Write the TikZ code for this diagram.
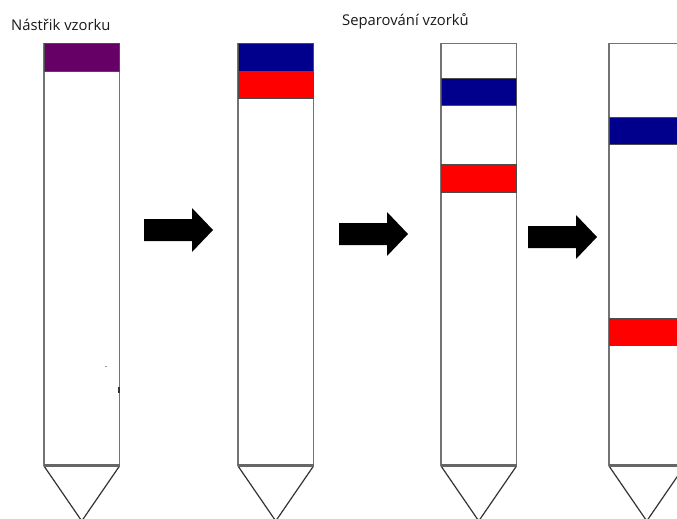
\documentclass[tikz,border=0pt]{standalone}
\usepackage{fontspec}
\setmainfont{Open Sans}
\begin{document}
\begin{tikzpicture}[x=1pt,y=-1pt,
  tube/.style={draw=black!55,line width=1.5pt,fill=white},
  base/.style={draw=black!60,line width=3pt},
  tip/.style={draw=black!80,line width=1.2pt,line join=miter},
  band/.style={draw=black!70,line width=0.8pt},
  flow/.style={fill=black},
  caption/.style={anchor=base west,inner sep=0pt,font=\fontsize{14.8}{17}\selectfont,text=black!90}]
\useasboundingbox (0,0) rectangle (677,519);
\fill[white] (0,0) rectangle (677,519);

% four columns: body, thick base line and conical tip
\foreach \xl/\nm in {44/c1,238/c2,441/c3,609/c4}{
  \draw[tube] (\xl,43.5) rectangle (\xl+75.5,465);
  \draw[tip] (\xl,466) -- (\xl+37.75,521) -- (\xl+75.5,466);
  \draw[base] (\xl-0.5,465) -- (\xl+76,465);
}

% sample zones
\filldraw[band,fill={rgb,255:red,102;green,0;blue,102}] (44,43.5) rectangle (119.5,71);
\filldraw[band,fill={rgb,255:red,0;green,0;blue,140}] (238,43.5) rectangle (313.5,71);
\filldraw[band,fill=red] (238,71) rectangle (313.5,98);
\filldraw[band,fill={rgb,255:red,0;green,0;blue,140}] (441,78) rectangle (516.5,105);
\filldraw[band,fill=red] (441,164.5) rectangle (516.5,192);
\filldraw[band,fill={rgb,255:red,0;green,0;blue,140}] (609,117) rectangle (684.5,144);
\filldraw[band,fill=red] (609,318) rectangle (684.5,345.5);

% small mark on the first column
\fill[black!80] (117.8,387) rectangle (119.8,393);
\fill[black!40] (105,365.5) rectangle (107,367);

% block arrows between the stages
\foreach \xa/\ya in {144/230,339/234,528/237}{
  \fill[flow] (\xa,\ya-11) -- (\xa+48,\ya-11) -- (\xa+48,\ya-22)
    -- (\xa+69,\ya) -- (\xa+48,\ya+22) -- (\xa+48,\ya+11) -- (\xa,\ya+11) -- cycle;
}

\node[caption] (t1) at (11,31) {Nástřik vzorku};
\node[caption] (t2) at (342,26) {Separování vzorků};
\end{tikzpicture}
\end{document}
